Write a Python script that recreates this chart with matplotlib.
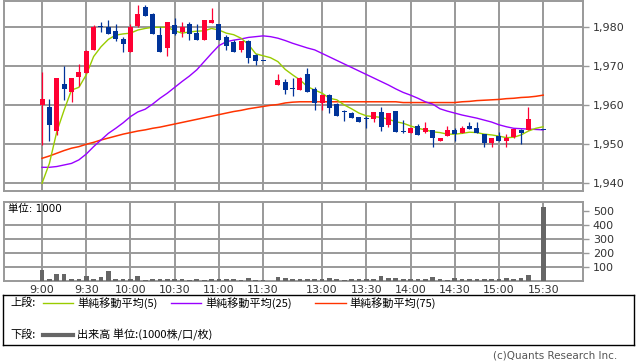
import numpy as np
import matplotlib.pyplot as plt

plt.rcParams['font.family'] = ['DejaVu Sans', 'Noto Sans CJK JP']


def session(start, end):
    # 5-minute slot labels for one trading session
    out = []
    t = start[0] * 60 + start[1]
    while t <= end[0] * 60 + end[1]:
        out.append("%d:%02d" % (t // 60, t % 60))
        t += 5
    return out


# slots: morning session, one empty slot for lunch, afternoon session
times = session((9, 0), (11, 30)) + [None] + session((12, 30), (15, 30))

nan = np.nan
opens = [1960.0, 1959.6, 1953.5, 1965.5, 1963.3, 1967.3, 1968.4, 1974.2, 1980.2, 1980.1,
         1979.1, 1977.1, 1973.7, 1980.3, 1985.1, 1983.4, 1978.0, 1974.8, 1980.6, 1978.8,
         1980.8, 1978.5, 1976.8, 1981.1, 1980.8, 1977.4, 1976.1, 1974.2, 1976.5, 1972.9,
         1971.4, nan, 1965.3, 1966.0, 1964.1, 1963.9, 1968.0, 1964.3, 1960.5, 1962.6,
         1960.3, 1958.3, 1958.1, 1957.0, 1956.4, 1956.4, 1958.4, 1955.0, 1958.6, 1953.1,
         1952.8, 1954.7, 1953.1, 1953.6, 1950.8, 1952.0, 1953.6, 1953.0, 1954.7, 1954.1,
         1952.6, 1950.4, 1952.1, 1950.9, 1951.9, 1953.7, 1953.7, nan, 1953.7]
highs = [1968.6, 1961.6, 1967.0, 1970.2, 1967.0, 1970.6, 1974.2, 1980.6, 1981.4, 1981.9,
         1980.8, 1977.6, 1980.8, 1985.7, 1985.7, 1983.6, 1980.2, 1981.4, 1982.3, 1981.4,
         1981.4, 1980.8, 1981.9, 1985.0, 1980.8, 1978.0, 1976.7, 1976.5, 1976.7, 1973.2,
         1971.4, nan, 1968.0, 1966.7, 1967.0, 1967.3, 1969.5, 1964.8, 1962.6, 1963.0,
         1960.5, 1958.8, 1958.4, 1957.0, 1957.3, 1958.4, 1959.6, 1958.1, 1958.6, 1956.2,
         1954.3, 1955.2, 1955.6, 1953.6, 1951.7, 1954.8, 1954.1, 1954.7, 1955.8, 1955.8,
         1952.6, 1951.6, 1953.2, 1952.6, 1953.8, 1953.8, 1959.6, nan, 1953.7]
lows = [1949.8, 1950.8, 1952.4, 1961.4, 1960.9, 1965.0, 1968.4, 1974.2, 1978.8, 1978.4,
        1976.5, 1973.7, 1973.7, 1980.1, 1982.8, 1978.2, 1973.7, 1972.6, 1978.1, 1977.4,
        1976.8, 1976.8, 1976.8, 1981.1, 1976.8, 1974.2, 1973.7, 1973.7, 1970.9, 1970.4,
        1971.4, nan, 1965.3, 1962.9, 1962.5, 1963.9, 1963.5, 1958.8, 1958.8, 1958.0,
        1957.3, 1956.0, 1956.8, 1955.7, 1954.3, 1955.8, 1953.4, 1954.5, 1953.2, 1953.0,
        1952.8, 1952.4, 1952.8, 1949.4, 1950.8, 1952.0, 1950.9, 1953.0, 1954.0, 1953.0,
        1949.4, 1949.4, 1950.9, 1949.4, 1951.6, 1950.0, 1953.7, nan, 1953.7]
closes = [1961.6, 1954.9, 1967.0, 1964.2, 1967.0, 1968.6, 1974.0, 1980.1, 1980.0, 1978.4,
          1976.9, 1975.7, 1980.0, 1983.4, 1982.8, 1978.4, 1973.7, 1981.4, 1978.4, 1980.0,
          1978.4, 1976.8, 1981.9, 1981.9, 1976.8, 1975.3, 1973.7, 1976.5, 1972.2, 1971.4,
          1971.4, nan, 1966.5, 1963.9, 1964.1, 1967.0, 1963.5, 1960.5, 1962.6, 1959.4,
          1957.3, 1958.3, 1956.8, 1955.7, 1956.4, 1958.4, 1954.5, 1958.1, 1953.2, 1953.1,
          1954.3, 1952.4, 1954.2, 1951.5, 1951.7, 1953.6, 1952.6, 1954.1, 1954.0, 1953.0,
          1950.4, 1951.6, 1950.9, 1951.6, 1953.8, 1953.0, 1956.4, nan, 1953.7]

ma5 = [1940.0, 1945.1, 1953.2, 1958.8, 1963.9, 1964.6, 1967.8, 1972.5, 1975.0, 1976.9,
       1978.0, 1978.3, 1978.5, 1979.3, 1979.7, 1980.0, 1980.0, 1980.0, 1979.1, 1978.5,
       1978.8, 1979.0, 1979.1, 1979.7, 1979.3, 1978.5, 1978.1, 1977.2, 1975.6, 1973.2,
       1972.7, 1972.2, 1971.2, 1969.2, 1967.8, 1966.5, 1964.8, 1963.9, 1963.1, 1961.8,
       1961.4, 1960.1, 1959.1, 1958.0, 1957.3, 1957.1, 1956.9, 1956.4, 1955.8, 1955.4,
       1954.7, 1954.1, 1953.7, 1953.2, 1953.0, 1952.6, 1952.6, 1952.8, 1953.1, 1953.0,
       1952.6, 1952.4, 1952.1, 1951.7, 1951.8, 1952.4, 1953.4, 1954.1, 1954.5]
ma25 = [1944.1, 1944.1, 1944.3, 1944.7, 1945.1, 1946.0, 1947.5, 1949.4, 1951.1, 1952.8,
        1954.1, 1955.5, 1957.1, 1958.3, 1959.0, 1960.3, 1961.8, 1963.1, 1964.6, 1966.1,
        1967.5, 1969.1, 1971.2, 1973.3, 1975.3, 1976.3, 1976.7, 1977.0, 1977.4, 1977.6,
        1977.8, 1977.6, 1977.2, 1976.6, 1975.9, 1975.3, 1974.7, 1974.2, 1973.3, 1972.4,
        1971.5, 1970.6, 1969.7, 1968.8, 1967.9, 1967.0, 1966.1, 1965.2, 1964.2, 1963.3,
        1962.6, 1961.8, 1960.9, 1960.3, 1959.1, 1958.5, 1958.0, 1957.5, 1957.1, 1956.7,
        1956.2, 1955.7, 1955.0, 1954.5, 1954.1, 1954.0, 1953.9, 1953.8, 1953.7]
ma75 = [1946.4, 1947.0, 1947.7, 1948.4, 1949.0, 1949.4, 1950.0, 1950.5, 1951.1, 1951.6,
        1952.1, 1952.6, 1953.0, 1953.4, 1953.7, 1954.1, 1954.4, 1954.8, 1955.2, 1955.6,
        1956.0, 1956.4, 1956.8, 1957.2, 1957.6, 1958.0, 1958.4, 1958.7, 1959.1, 1959.4,
        1959.7, 1960.0, 1960.2, 1960.6, 1960.8, 1960.9, 1960.9, 1960.9, 1960.9, 1960.9,
        1960.9, 1960.9, 1960.9, 1960.9, 1960.9, 1960.9, 1960.9, 1960.9, 1960.9, 1960.7,
        1960.7, 1960.7, 1960.7, 1960.7, 1960.7, 1960.7, 1960.7, 1960.9, 1961.0, 1961.2,
        1961.3, 1961.4, 1961.5, 1961.7, 1961.8, 1962.0, 1962.1, 1962.3, 1962.6]

volume = [76, 17, 48, 48, 12, 17, 34, 17, 26, 69,
          12, 12, 17, 34, 5, 12, 12, 12, 17, 12,
          5, 12, 5, 12, 12, 12, 12, 5, 19, 5,
          5, nan, 26, 19, 12, 12, 12, 12, 12, 19,
          12, 5, 12, 12, 12, 12, 34, 19, 19, 12,
          12, 12, 12, 26, 12, 5, 19, 12, 12, 12,
          12, 12, 12, 19, 12, 19, 40, nan, 528]

tick_labels = ["9:00", "9:30", "10:00", "10:30", "11:00", "11:30",
               "13:00", "13:30", "14:00", "14:30", "15:00", "15:30"]
price_ticks = [1940, 1950, 1960, 1970, 1980]
vol_ticks = [100, 200, 300, 400, 500]

UP = '#ff0033'
DOWN = '#003399'
GRID = '#999999'

x = np.arange(len(times))
o = np.array(opens); h = np.array(highs); l = np.array(lows); c = np.array(closes)
ok = ~np.isnan(o)
up = ok & (c > o)
down = ok & ~up
tick_pos = [times.index(t) for t in tick_labels]

fig = plt.figure(figsize=(6.38, 3.62), dpi=100)
W, H = 638.0, 362.0
ax = fig.add_axes([4 / W, 1 - 190.7 / H, 579 / W, 189.7 / H])
axv = fig.add_axes([4 / W, 1 - 281 / H, 579 / W, 79 / H])

for a in (ax, axv):
    a.set_xlim(-5.16, 73.4)
    a.set_xticks(tick_pos)
    a.grid(True, color=GRID, lw=1.4, zorder=0)
    a.set_axisbelow(True)
    for s in a.spines.values():
        s.set_color(GRID)
        s.set_linewidth(1.4)
    a.yaxis.tick_right()
    a.tick_params(axis='y', length=4, color=GRID, width=1, pad=3,
                  labelsize=8, labelcolor='#333333')
    a.tick_params(axis='x', length=0, labelsize=8, labelcolor='#333333', pad=3)

# price panel
ax.set_ylim(1938.1, 1986.74)
ax.set_yticks(price_ticks)
ax.set_yticklabels(["{:,}".format(v) for v in price_ticks])
ax.set_xticklabels([])

ax.plot(x, ma75, color='#ff3300', lw=1.1, zorder=2)
ax.plot(x, ma25, color='#9900ff', lw=1.0, zorder=2)
ax.plot(x, ma5, color='#99cc00', lw=1.0, zorder=2)

for mask, col in ((up, UP), (down, DOWN)):
    ax.vlines(x[mask], l[mask], h[mask], color=col, lw=0.9, zorder=3)
    body = np.maximum(np.abs(c[mask] - o[mask]), 0.3)
    ax.bar(x[mask], body, bottom=np.minimum(o[mask], c[mask]), width=0.68,
           color=col, lw=0, zorder=4)

# volume panel
axv.set_ylim(0, 563)
axv.set_yticks(vol_ticks)
axv.set_xticklabels(tick_labels)
axv.yaxis.grid(False)
for v in vol_ticks[:-1]:
    axv.axhline(v, color=GRID, lw=1.4, zorder=0)
axv.bar(x, np.nan_to_num(volume), width=0.64, color='#666666', lw=0, zorder=3)
fig.text(8 / W, 1 - 209 / H, "単位: 1000", fontsize=7.5, va='center', ha='left')

# legend box
lax = fig.add_axes([3 / W, 1 - 345 / H, 631 / W, 50 / H])
lax.set_xlim(3, 634)
lax.set_ylim(345, 295)
lax.set_xticks([]); lax.set_yticks([])
for s in lax.spines.values():
    s.set_color('black')
    s.set_linewidth(1)
lf = dict(fontsize=8, va='center', ha='left', family=['Noto Sans CJK JP', 'DejaVu Sans'])
lax.text(10, 303, "上段:", **lf)
lax.plot([43, 73], [303, 303], color='#99cc00', lw=1)
lax.text(77, 303, "単純移動平均(5)", **lf)
lax.plot([171, 201], [303, 303], color='#9900ff', lw=1)
lax.text(205, 303, "単純移動平均(25)", **lf)
lax.plot([315, 346], [303, 303], color='#ff3300', lw=1)
lax.text(349, 303, "単純移動平均(75)", **lf)
lax.text(10, 335, "下段:", **lf)
lax.plot([43, 73], [335, 335], color='#666666', lw=3)
lax.text(77, 335, "出来高 単位:(1000株/口/枚)", **lf)

fig.text(617 / W, 1 - 356 / H, "(c)Quants Research Inc.", fontsize=7.5,
         color='#555555', ha='right', va='center')

fig.savefig('out.png', dpi=100)
